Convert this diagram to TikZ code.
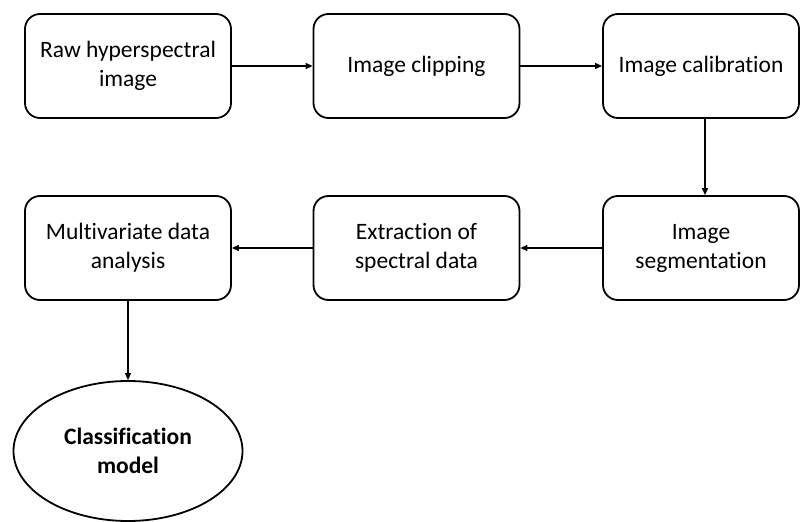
\documentclass[tikz,border=0pt]{standalone}
\usepackage{fontspec}
\setmainfont[Ligatures=NoCommon]{Carlito}
\usepackage{tikz}
\usetikzlibrary{shapes, arrows.meta, positioning}
\newcommand{\B}[1]{\textbf{#1}}
\tikzset{
    paso/.style={draw, line width=1.8pt, rounded corners=15pt, align=center,
        minimum width=206pt, minimum height=104pt, inner sep=2pt,
        font=\fontsize{23.5}{29}\selectfont},
    modelo/.style={draw, ellipse, line width=1.8pt, align=center,
        minimum width=229pt, minimum height=140pt, inner sep=0pt,
        font=\fontsize{23.5}{29}\selectfont\bfseries},
    flecha/.style={line width=1.3pt, -{Triangle[length=7pt,width=6pt]}}
}

\begin{document}
\begin{tikzpicture}[x=1pt, y=-1pt]
        % Marco
        \useasboundingbox (0,0) rectangle (801,522);
        % Primera fila
        \node[paso] (raw) at (128,66) {Raw hyperspectral\\image};
        \node[paso] (clip) at (416.5,66) {Image clipping};
        \node[paso, minimum width=196pt] (calib) at (701,66) {Image calibration};
        % Segunda fila
        \node[paso, minimum width=196pt] (seg) at (701,248) {Image\\segmentation};
        \node[paso] (extr) at (416.5,248) {Extraction of\\spectral data};
        \node[paso] (multi) at (128,248) {Multivariate data\\analysis};
        % Modelo final
        \node[modelo] (clas) at (128,451) {Classification\\model};
        % Flechas
        \draw[flecha] (raw) -- (clip);
        \draw[flecha] (clip) -- (calib);
        \draw[flecha] ([xshift=4pt]calib.south) -- ([xshift=4pt]seg.north);
        \draw[flecha] (seg) -- (extr);
        \draw[flecha] (extr) -- (multi);
        \draw[flecha] (multi) -- (clas);
\end{tikzpicture}
\end{document}
